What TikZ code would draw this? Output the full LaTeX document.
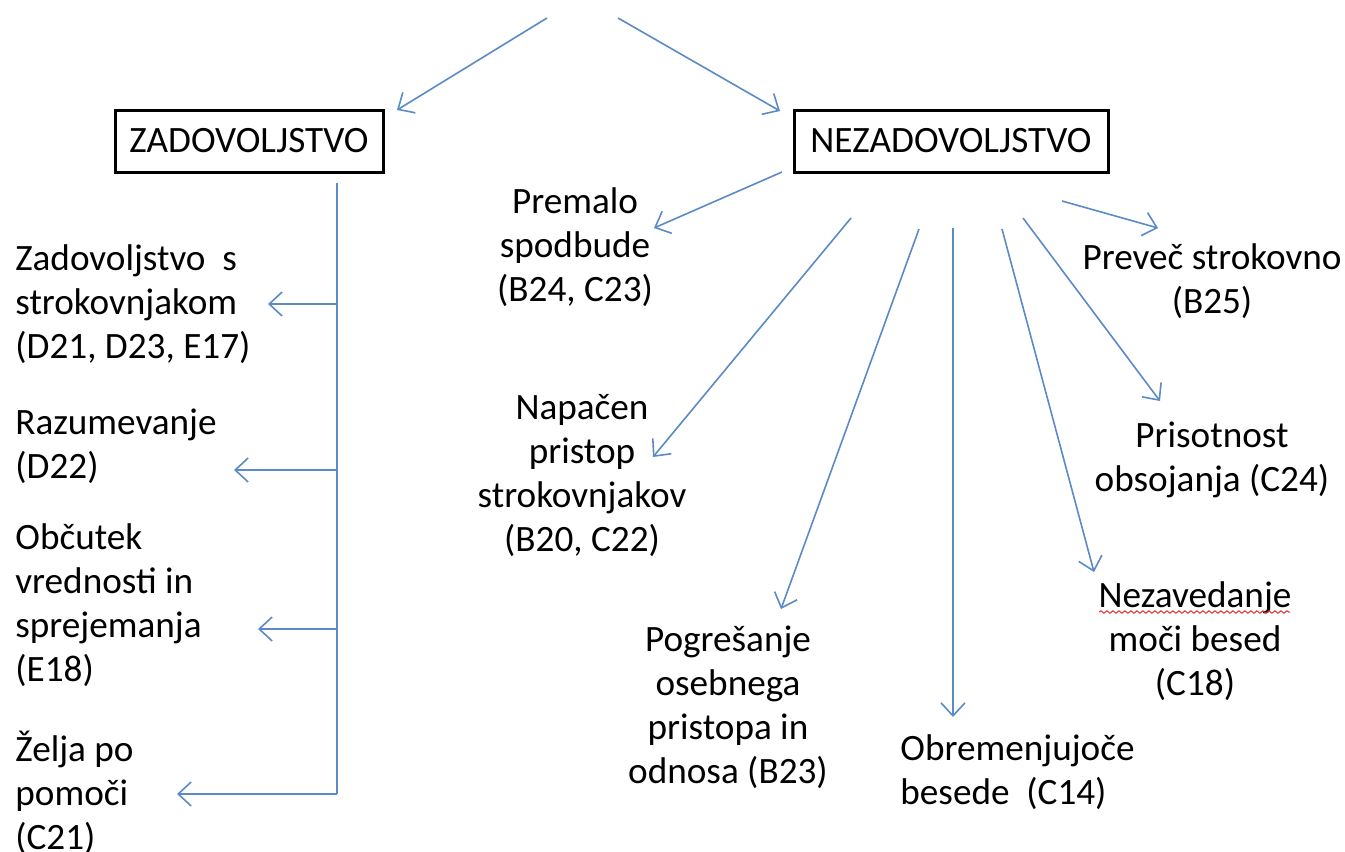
\documentclass[tikz,border=0pt]{standalone}
\usepackage{fontspec}
\setmainfont{Carlito}
\usetikzlibrary{arrows.meta,decorations.pathmorphing}
\definecolor{linkblue}{HTML}{5B8AC6}
\definecolor{spellred}{HTML}{E03030}
\begin{document}
\begin{tikzpicture}[x=0.5pt,y=-0.5pt,
  every node/.style={font=\fontsize{18.6}{22}\selectfont, inner sep=0pt},
  cat/.style={draw=black, line width=1.5pt, minimum height=31pt},
  lbl/.style={align=center},
  lbll/.style={align=left, anchor=west},
  link/.style={draw=linkblue, line width=0.8pt, -{Straight Barb[length=6.5pt,width=12pt,line width=0.8pt]}}]
\useasboundingbox (0,0) rectangle (1345,852);

% top fork
\coordinate (topL) at (547,18);
\coordinate (topR) at (618,18);

% category boxes
\node[cat, minimum width=134pt] (zad) at (249,141) {ZADOVOLJSTVO};
\node[cat, minimum width=157pt] (nez) at (951,141) {NEZADOVOLJSTVO};

\draw[link] (topL) -- (397,110);
\draw[link] (topR) -- (780,111);

% satisfaction branch: trunk with four side arrows
\coordinate (trTop) at (337,183);
\coordinate (tr1) at (337,304);
\coordinate (tr2) at (337,470);
\coordinate (tr3) at (337,629);
\coordinate (tr4) at (337,794);
\draw[linkblue, line width=0.8pt] (trTop) -- (tr4);

\node[lbll] (s1) at (15,304) {Zadovoljstvo\hspace{0.45em}s\\strokovnjakom\\(D21, D23, E17)};
\node[lbll] (s2) at (15,446) {Razumevanje\\(D22)};
\node[lbll] (s3) at (15,605) {Občutek\\vrednosti in\\sprejemanja\\(E18)};
\node[lbll] (s4) at (15,793) {Želja po\\pomoči\\(C21)};

\coordinate (a1) at (268,304);
\coordinate (a2) at (234,470);
\coordinate (a3) at (258,629);
\coordinate (a4) at (177,794);
\draw[link] (tr1) -- (a1);
\draw[link] (tr2) -- (a2);
\draw[link] (tr3) -- (a3);
\draw[link] (tr4) -- (a4);

% dissatisfaction branch
\node[lbl] (d1) at (575,247) {Premalo\\spodbude\\(B24, C23)};
\node[lbl] (d2) at (582,476) {Napačen\\pristop\\strokovnjakov\\(B20, C22)};
\node[lbl] (d3) at (728,707) {Pogrešanje\\osebnega\\pristopa in\\odnosa (B23)};
\node[lbll] (d4) at (900,772) {Obremenjujoče\\besede\ \ (C14)};
\node[lbl] (d5) at (1195,641) {Nezavedanje\\moči besed\\(C18)};
\node[lbl] (d6) at (1212,460) {Prisotnost\\obsojanja (C24)};
\node[lbl] (d7) at (1212,281) {Preveč strokovno\\(B25)};

\coordinate (n1) at (782,172);
\coordinate (n2) at (851,218);
\coordinate (n3) at (919,229);
\coordinate (n4) at (953,228);
\coordinate (n5) at (1002,229);
\coordinate (n6) at (1023,218);
\coordinate (n7) at (1062,201);

\draw[link] (n1) -- (654,228);
\draw[link] (n2) -- (653,457);
\draw[link] (n3) -- (781,609);
\draw[link] (n4) -- (953,717);
\draw[link] (n5) -- (1094,572);
\draw[link] (n6) -- (1160,401);
\draw[link] (n7) -- (1158,228);

% spell-check underline
\draw[spellred, line width=0.5pt, decorate,
  decoration={snake, segment length=3pt, amplitude=0.6pt}] (1099,612) -- (1290,612);
\end{tikzpicture}
\end{document}
